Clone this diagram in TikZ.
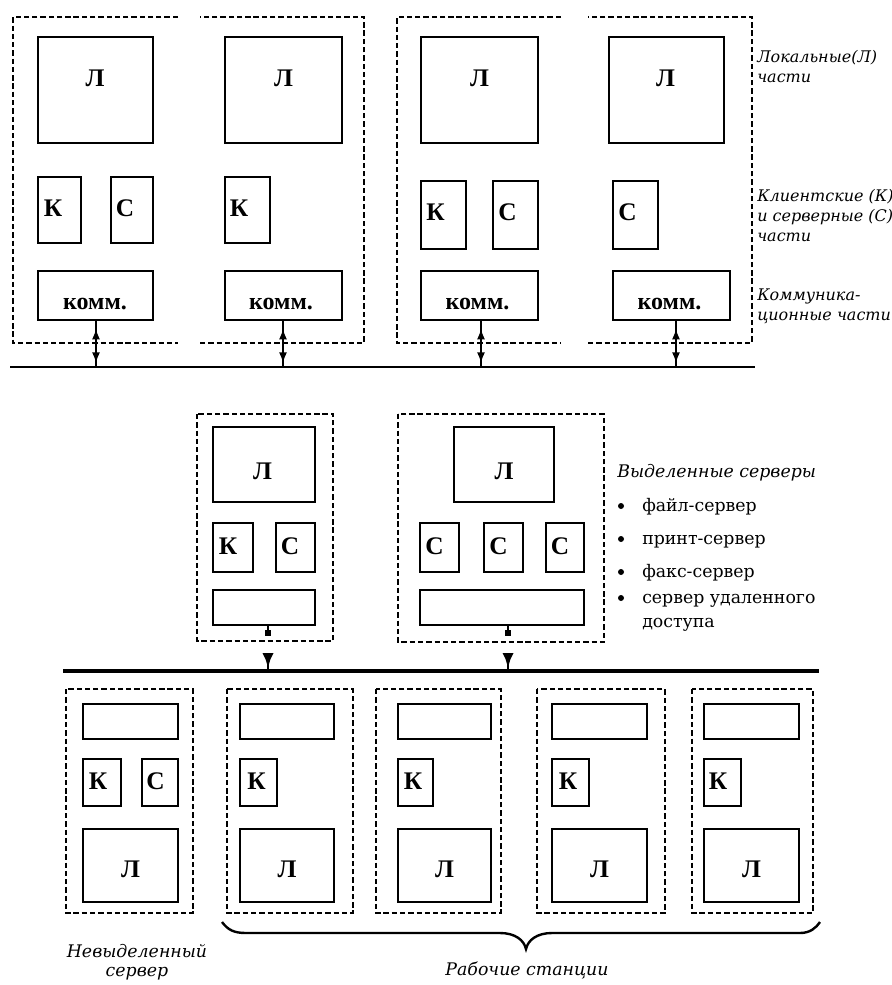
\documentclass[tikz,border=0pt]{standalone}
\usepackage{fontspec}
\setmainfont{Liberation Serif}
\newfontfamily\djv{DejaVu Serif}
\usetikzlibrary{fit,arrows.meta}
\newcommand\mybox[5]{\node[box, fit={(#2,#3) (#4,#5)}] (#1) {};}
\begin{document}
\begin{tikzpicture}[x=0.75pt,y=-0.75pt,
  box/.style={draw, line width=1.1pt, inner sep=0pt},
  frame/.style={line width=0.9pt, dash pattern=on 4pt off 2.2pt},
  let/.style={font=\fontsize{19}{19}\selectfont\bfseries, inner sep=0pt},
  komm/.style={font=\fontsize{18}{18}\selectfont\bfseries, inner sep=0pt},
  note/.style={font=\djv\itshape\fontsize{13}{15}\selectfont, inner sep=0pt, align=left, anchor=north west},
  topnote/.style={note, font=\djv\itshape\fontsize{12}{15}\selectfont},
  item/.style={font=\djv\fontsize{13}{15}\selectfont, inner sep=0pt, anchor=base west},
  bul/.style={circle, fill, inner sep=0pt, minimum size=4.5pt},
  bus/.style={line width=1.8pt},
  busm/.style={line width=2.6pt},
  conn/.style={line width=1.2pt},
  dbl/.style={line width=1.2pt, {Latex[length=8pt,width=6pt]}-{Latex[length=8pt,width=6pt]}, shorten <=6pt, shorten >=3pt},
  sqr/.style={fill, inner sep=0pt, minimum width=3.8pt, minimum height=3.8pt},
  brace/.style={line width=1.8pt}
]
\useasboundingbox (0,0) rectangle (892,985);

% ================= TOP SECTION =================
\draw[frame] (178,17) -- (13,17) -- (13,343) -- (178,343) (200,343) -- (364,343) -- (364,17) -- (200,17);
\draw[frame] (561,17) -- (397,17) -- (397,343) -- (561,343) (588,343) -- (752,343) -- (752,17) -- (588,17);

% station 1
\mybox{t1L}{38}{37}{153}{143}
\mybox{t1K}{38}{177}{81}{243}
\mybox{t1C}{111}{177}{153}{243}
\mybox{t1k}{38}{271}{153}{320}
\node[let] (t1Lt) at (95,78) {Л};
\node[let] (t1Kt) at (53,208) {К};
\node[let] (t1Ct) at (125,208) {С};
\node[komm] (t1kt) at (95,304) {комм.};
% station 2
\mybox{t2L}{225}{37}{342}{143}
\mybox{t2K}{225}{177}{270}{243}
\mybox{t2k}{225}{271}{342}{320}
\node[let] (t2Lt) at (283.5,78) {Л};
\node[let] (t2Kt) at (239,208) {К};
\node[komm] (t2kt) at (281,304) {комм.};
% station 3
\mybox{t3L}{421}{37}{538}{143}
\mybox{t3K}{421}{181}{466}{249}
\mybox{t3C}{493}{181}{538}{249}
\mybox{t3k}{421}{271}{538}{320}
\node[let] (t3Lt) at (479.5,78) {Л};
\node[let] (t3Kt) at (435.5,212) {К};
\node[let] (t3Ct) at (507.5,212) {С};
\node[komm] (t3kt) at (477.5,304) {комм.};
% station 4
\mybox{t4L}{609}{37}{724}{143}
\mybox{t4C}{613}{181}{658}{249}
\mybox{t4k}{613}{271}{730}{320}
\node[let] (t4Lt) at (665.5,78) {Л};
\node[let] (t4Ct) at (627.5,212) {С};
\node[komm] (t4kt) at (669.5,304) {комм.};

% top bus
\coordinate (busTL) at (10,367);
\coordinate (busTR) at (755,367);
\draw[bus] (busTL) -- (busTR);
\coordinate (a1) at (96,367);
\coordinate (a2) at (283,367);
\coordinate (a3) at (481,367);
\coordinate (a4) at (676,367);
\foreach \i in {1,2,3,4}{
  \draw[conn] (t\i k.south -| a\i) -- (a\i);
  \draw[dbl] (t\i k.south -| a\i) -- (a\i);
}

% right notes
\node[topnote] (nL) at (757,50) {Локальные(Л)\\части};
\node[topnote] (nKC) at (757,189) {Клиентские (К)\\и серверные (С)\\части};
\node[topnote] (nCom) at (757,289) {Коммуника-\\ционные части};

% ================= MIDDLE SECTION =================
\draw[frame] (197,414) rectangle (333,641);
\draw[frame] (398,414) rectangle (604,642);
% server 1
\mybox{s1L}{213}{427}{315}{502}
\mybox{s1K}{213}{523}{253}{572}
\mybox{s1C}{276}{523}{315}{572}
\mybox{s1k}{213}{590}{315}{625}
\node[let] (s1Lt) at (262.5,471.5) {Л};
\node[let] (s1Kt) at (228,546) {К};
\node[let] (s1Ct) at (290,546) {С};
% server 2
\mybox{s2L}{454}{427}{554}{502}
\mybox{s2C1}{420}{523}{459}{572}
\mybox{s2C2}{484}{523}{523}{572}
\mybox{s2C3}{546}{523}{584}{572}
\mybox{s2k}{420}{590}{584}{625}
\node[let] (s2Lt) at (504,471.5) {Л};
\node[let] (s2C1t) at (434.5,546) {С};
\node[let] (s2C2t) at (498.5,546) {С};
\node[let] (s2C3t) at (560,546) {С};

% middle bus
\coordinate (busML) at (63,671);
\coordinate (busMR) at (819,671);
\draw[busm] (busML) -- (busMR);
\coordinate (m1) at (268,671);
\coordinate (m2) at (508,671);
\coordinate (q1) at (268,633);
\coordinate (q2) at (508,633);
\coordinate (h1) at (268,653);
\coordinate (h2) at (508,653);
\draw[conn] (s1k.south -| q1) -- (q1);
\draw[conn] (s2k.south -| q2) -- (q2);
\node[sqr] (q1s) at (q1) {};
\node[sqr] (q2s) at (q2) {};
\draw[conn] (h1) -- (m1);
\draw[conn] (h2) -- (m2);
\fill (h1) ++(-5.5,0) -- ++(11,0) -- ++(-3,6) -- ++(-1.5,5) -- ++(-2,0) -- ++(-1.5,-5) -- cycle;
\fill (h2) ++(-5.5,0) -- ++(11,0) -- ++(-3,6) -- ++(-1.5,5) -- ++(-2,0) -- ++(-1.5,-5) -- cycle;

% dedicated servers list
\node[note, anchor=base west] (nDed) at (617,477) {Выделенные серверы};
\node[bul] (b1) at (621,506) {};
\node[bul] (b2) at (621,539) {};
\node[bul] (b3) at (621,572) {};
\node[bul] (b4) at (621,598) {};
\node[item] (i1) at (642,511) {файл-сервер};
\node[item] (i2) at (642,544) {принт-сервер};
\node[item] (i3) at (642,577) {факс-сервер};
\node[item] (i4) at (642,603) {сервер удаленного};
\node[item] (i5) at (642,627) {доступа};

% ================= BOTTOM SECTION =================
\draw[frame] (66,689) rectangle (193,913);
\draw[frame] (227,689) rectangle (353,913);
\draw[frame] (376,689) rectangle (501,913);
\draw[frame] (537,689) rectangle (665,913);
\draw[frame] (692,689) rectangle (813,913);
% A: non-dedicated server
\mybox{wAk}{83}{704}{178}{739}
\mybox{wAK}{83}{759}{121}{806}
\mybox{wAC}{142}{759}{178}{806}
\mybox{wAL}{83}{829}{178}{902}
\node[let] (wAKt) at (98,781) {К};
\node[let] (wACt) at (155.5,781) {С};
\node[let] (wALt) at (130.5,869) {Л};
% B
\mybox{wBk}{240}{704}{334}{739}
\mybox{wBK}{240}{759}{277}{806}
\mybox{wBL}{240}{829}{334}{902}
\node[let] (wBKt) at (256.5,781) {К};
\node[let] (wBLt) at (287,869) {Л};
% C
\mybox{wCk}{398}{704}{491}{739}
\mybox{wCK}{398}{759}{433}{806}
\mybox{wCL}{398}{829}{491}{902}
\node[let] (wCKt) at (413,781) {К};
\node[let] (wCLt) at (444.5,869) {Л};
% D
\mybox{wDk}{552}{704}{647}{739}
\mybox{wDK}{552}{759}{589}{806}
\mybox{wDL}{552}{829}{647}{902}
\node[let] (wDKt) at (568,781) {К};
\node[let] (wDLt) at (599.5,869) {Л};
% E
\mybox{wEk}{704}{704}{799}{739}
\mybox{wEK}{704}{759}{741}{806}
\mybox{wEL}{704}{829}{799}{902}
\node[let] (wEKt) at (718,781) {К};
\node[let] (wELt) at (751.5,869) {Л};

% brace under workstations
\draw[brace] (222,922) .. controls (228,930) and (234,933) .. (246,933) -- (500,933)
  .. controls (515,933) and (524,940) .. (526,949)
  .. controls (528,940) and (537,933) .. (552,933) -- (800,933)
  .. controls (810,933) and (816,928) .. (820,922);

% bottom notes
\node[note, align=center, anchor=north, font=\djv\itshape\fontsize{13}{14}\selectfont] (nNon) at (137,944) {Невыделенный\\сервер};
\node[note, anchor=base] (nWs) at (527,975) {Рабочие станции};
\end{tikzpicture}
\end{document}
